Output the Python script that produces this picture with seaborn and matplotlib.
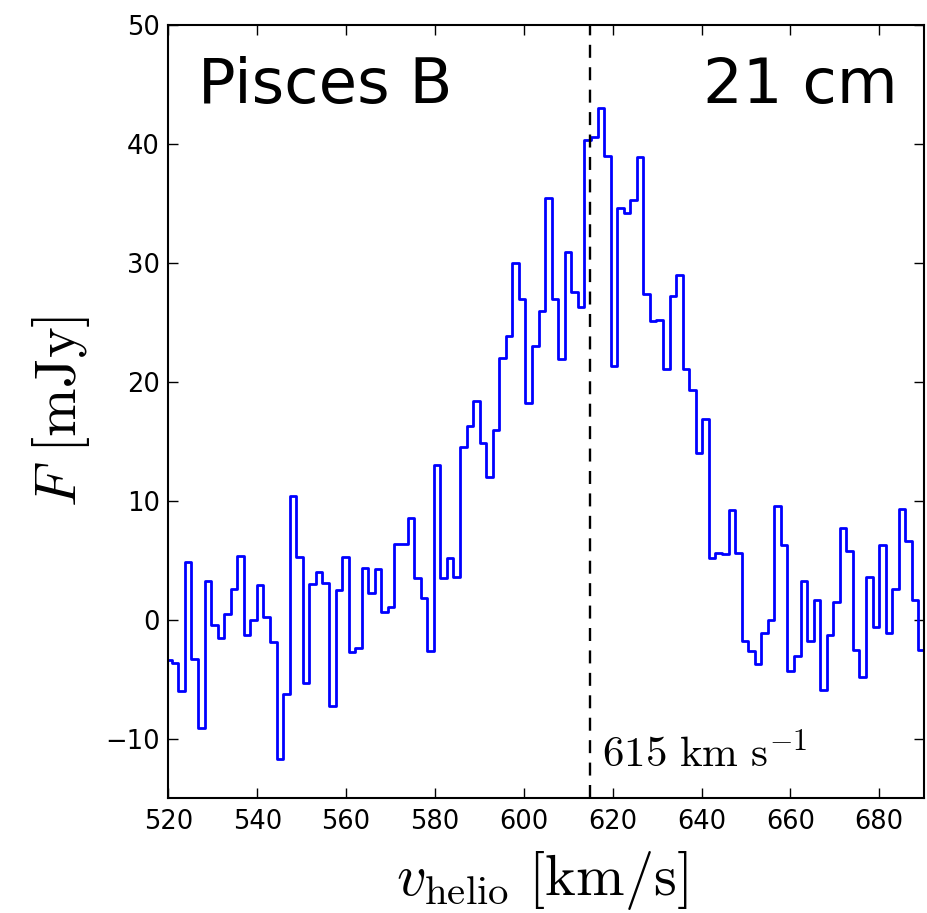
import numpy as np
import pandas as pd
import matplotlib
matplotlib.use('Agg')
import matplotlib.pyplot as plt
import seaborn as sns

# HI 21 cm spectrum of Pisces B, one value per velocity channel
v_first_edge = 519.30   # km/s, lower edge of the first (partly shown) channel
chan_width = 1.474      # km/s
flux = [
    -3.4, -3.6, -6.0, 4.9, -3.3, -9.1, 3.3, -0.45, -1.5, 0.5,
    2.6, 5.4, -1.3, 0.0, 2.9, 0.2, -1.9, -11.7, -6.2, 10.4,
    5.3, -5.3, 3.0, 4.0, 3.1, -7.2, 2.5, 5.3, -2.7, -2.4,
    4.4, 2.3, 4.3, 0.7, 1.1, 6.4, 6.4, 8.6, 3.5, 1.8,
    -2.6, 13.0, 3.5, 5.2, 3.6, 14.5, 16.3, 18.4, 14.9, 12.0,
    16.0, 22.0, 23.9, 30.0, 27.0, 18.2, 23.0, 26.0, 35.5, 27.0,
    21.9, 30.9, 27.6, 26.3, 40.3, 40.6, 43.0, 39.0, 21.3, 34.6,
    34.2, 35.3, 38.9, 27.4, 25.1, 25.2, 21.1, 27.2, 29.0, 21.1,
    19.3, 14.0, 16.9, 5.2, 5.6, 5.5, 9.2, 5.6, -1.8, -2.6,
    -3.7, -1.1, 0.0, 9.6, 6.3, -4.3, -3.0, 3.3, -1.8, 1.7,
    -5.9, -1.3, 1.5, 7.7, 5.8, -2.5, -4.8, 3.6, -0.6, 6.3,
    -1.1, 2.6, 9.3, 6.6, 1.7, -2.5,
]
v_sys = 615
x_ticks = [520, 540, 560, 580, 600, 620, 640, 660, 680]
y_ticks = [-10, 0, 10, 20, 30, 40, 50]

vel = v_first_edge + chan_width * (np.arange(len(flux)) + 0.5)
df = pd.DataFrame({'v': vel, 'F': flux})

plt.rcParams['mathtext.fontset'] = 'cm'
plt.rcParams['font.family'] = ['DejaVu Sans']

fig = plt.figure(figsize=(9.28, 9.13), dpi=100)
ax = fig.add_axes([0.1814, 0.1256, 0.814, 0.847])

sns.lineplot(data=df, x='v', y='F', drawstyle='steps-mid', color='blue',
             lw=2.0, estimator=None, sort=False, ax=ax)
ax.axvline(v_sys, color='black', lw=1.7, ls=(0, (5.5, 4)))

ax.set_xlim(520, 690)
ax.set_ylim(-15, 50)
ax.set_xticks(x_ticks)
ax.set_yticks(y_ticks)
ax.tick_params(direction='in', top=True, right=True, length=7, width=1,
               labelsize=18.5)
ax.tick_params(axis='x', pad=8)
ax.tick_params(axis='y', pad=6)
for s in ax.spines.values():
    s.set_linewidth(1.5)

ax.set_xlabel(r'$v_{\rm helio}\ [\mathrm{km/s}]$', fontsize=42, va='center')
ax.xaxis.set_label_coords(0.495, -0.106)
ax.set_ylabel(r'$F\ [\mathrm{mJy}]$', fontsize=42, va='center')
ax.yaxis.set_label_coords(-0.142, 0.5)

ax.text(0.039, 0.899, 'Pisces B', transform=ax.transAxes, fontsize=45,
        ha='left', va='baseline')
ax.text(0.966, 0.899, '21 cm', transform=ax.transAxes, fontsize=45,
        ha='right', va='baseline')
ax.text(v_sys + 2.6, -12.4, r'$615\ \mathrm{km\ s^{-1}}$', fontsize=31,
        ha='left', va='baseline')

fig.savefig('out.png', dpi=100)
